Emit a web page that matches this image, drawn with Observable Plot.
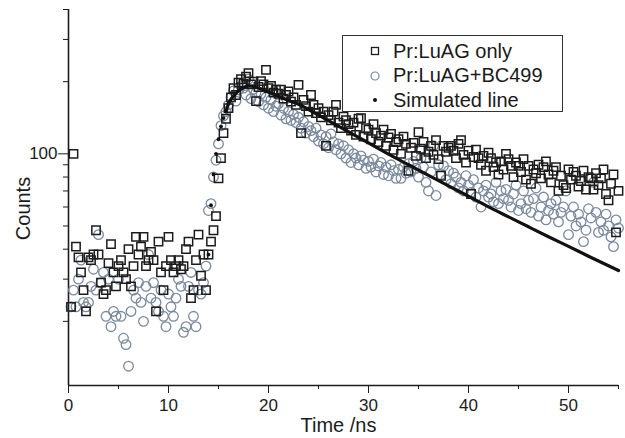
<!DOCTYPE html>
<html>
<head>
<meta charset="utf-8">
<script src="https://cdn.jsdelivr.net/npm/d3@7"></script>
<script src="https://cdn.jsdelivr.net/npm/@observablehq/plot@0.6"></script>
<style>
  html, body { margin: 0; padding: 0; background: #fff; }
  #wrap { position: relative; width: 625px; height: 438px; font-family: "Liberation Sans", Arial, sans-serif; }
  #legend { position: absolute; left: 342px; top: 35px; width: 219px; height: 75px; border: 1px solid #333; background: #fff; }
  .row { position: absolute; left: 0; height: 24px; display: flex; align-items: center; font-size: 20px; color: #1a1a1a; }
  .row svg { margin-left: 27px; margin-right: 13px; }
</style>
</head>
<body>
<div id="wrap"></div>
<script>
// ---- data (time grid in ns, 0.25 ns channels) ----
const tStep = 0.25;

// Pr:LuAG only (squares), counts, from t = 0.25 ns
const luagOnly = [
  23, 100, 41, 37,   32, 27, 22, 37,   36, 38, 48, 38,   29, 26, 27, 35,
  42, 32, 28, 34,    36, 32, 30, 40,   28, 34, 45, 38,   41, 45, 34, 36,
  39, 36, 22, 43,    32, 27, 34, 45,   36, 32, 34, 36,   33, 34, 40, 43,
  25, 27, 36, 46,    31, 38, 27, 38,   43, 48, 55, 79,   96, 122, 140, 155,
  172, 188, 176, 198, 205, 196, 210, 217, 195, 200, 166, 190, 201, 195, 224, 188,
  192, 180, 185, 178, 185, 170, 176, 182, 165, 172, 160, 194, 122, 168, 158, 150,
  176, 160, 148, 155, 142, 150, 108, 145, 138, 150, 160, 135, 128, 143, 138, 133,
  125, 135, 120, 140, 141, 118, 128, 126, 115, 133, 122, 112, 119, 126, 108, 117,
  121, 104, 112, 115, 100, 118, 110, 85,  106, 111, 98, 123,  105, 112, 96, 102,
  108, 99, 114, 95,  81, 108, 102, 106,  108, 103, 96, 110,  114, 99, 92, 103,
  68, 97, 104, 96,   90, 98, 85, 101,   96, 88, 92, 82,     93, 86, 100, 95,
  89, 80, 92, 89,    84, 95, 78, 89,   75, 86, 83, 90,     79, 88, 93, 82,
  76, 85, 88, 70,    81, 74, 72, 86,   78, 84, 81, 73,     77, 85, 71, 80,
  79, 71, 83, 74,    79, 86, 68, 64,   75, 82, 47, 70
];

// Pr:LuAG+BC499 (circles), counts, from t = 0.25 ns
const luagBC = [
  23, 27, 23, 30,    36, 24, 23, 24,   28, 33, 27, 46,   29, 32, 21, 30,
  19, 22, 21, 30,    21, 17, 16, 13,   22, 27, 25, 29,   24, 20, 28, 38,
  25, 29, 24, 22,    27, 21, 19, 26,   23, 21, 25, 30,   28, 18, 19, 28,
  32, 21, 19, 27,    26, 29, 34, 58,   62, 80, 94, 110,  131, 144, 150, 160,
  172, 183, 166, 185, 192, 188, 176, 205, 170, 186, 180, 165, 178, 160, 172, 155,
  168, 150, 158, 162, 145, 155, 140, 150, 138, 146, 135, 142, 128, 136, 122, 130,
  125, 118, 128, 113, 120, 110, 118, 106, 121, 112, 104, 110, 100, 108, 96, 104,
  92, 100, 96, 90,   98, 94, 87, 93,   88, 95, 84, 89,   92, 82, 88, 81,
  90, 85, 79, 86,    79, 88, 83, 91,   84, 93, 87, 80,   96, 88, 76, 70,
  84, 108, 67, 90,   82, 89, 78, 85,   75, 83, 80, 72,   76, 70, 81, 74,
  69, 78, 66, 72,    60, 70, 74, 66,   68, 63, 76, 62,   70, 65, 71, 64,
  60, 68, 74, 58,    62, 70, 59, 64,   57, 65, 72, 55,   60, 66, 53, 58,
  62, 56, 64, 52,    57, 60, 70, 46,   55, 60, 50, 56,   52, 43, 48, 59,
  54, 76, 57, 47,    52, 48, 56, 50,   45, 41, 53, 49
];

// Simulated line
const simTime   = [14.0, 14.25, 14.5, 14.75, 15.0, 15.25, 15.5, 15.75, 16.0, 16.5, 17.0, 17.5, 18.0, 18.5, 19, 20, 21, 22, 23, 24, 25, 26, 27, 28, 29, 30, 32, 34, 36, 38, 40, 42, 44, 46, 48, 50, 52, 54, 55];
const simCounts = [38, 61, 82, 100, 115, 130, 141, 150, 162, 174, 183, 189, 192, 191, 188, 181, 174, 167, 161, 153, 145, 137.6, 130.4, 123.6, 117.2, 111, 99.7, 90, 81.3, 73.5, 66.5, 60.1, 54.6, 49.6, 45.1, 41.1, 37.4, 34.1, 32.6];

// axes
const xDomain = [0, 55];
const yDomain = [10.8, 400];
const xMajor = [0, 10, 20, 30, 40, 50];
const xMinor = [5, 15, 25, 35, 45, 55];
const yMajor = [100];
const yMinor = [20, 30, 40, 50, 60, 70, 80, 90, 200, 300, 400];

const seriesNames = ["Pr:LuAG only", "Pr:LuAG+BC499", "Simulated line"];

// ---- build tables ----
const squares = luagOnly.map((v, i) => ({t: (i + 1) * tStep, v}));
const circles = luagBC.map((v, i) => ({t: (i + 1) * tStep, v}));
const sim = simTime.map((t, i) => ({t, v: simCounts[i]}));
const simRise = sim.filter(d => d.t <= 16);
const simCurve = sim.filter(d => d.t >= 15.75);

const ink = "#1c1c1c";
const circleColor = "#7b8a9e";

const chart = Plot.plot({
  width: 625,
  height: 438,
  marginLeft: 68,
  marginRight: 7,
  marginTop: 9,
  marginBottom: 53,
  style: {fontFamily: "'Liberation Sans', Arial, sans-serif", color: ink, background: "white", overflow: "visible"},
  x: {domain: xDomain, label: null},
  y: {type: "log", domain: yDomain, label: null},
  marks: [
    Plot.axisX({ticks: xMajor, tickSize: 8, tickPadding: 5, fontSize: 17, tickFormat: d => String(d), label: null}),
    Plot.axisX({ticks: xMinor, tickSize: 4, tickFormat: () => "", label: null}),
    Plot.axisY({ticks: yMajor, tickSize: 10, tickPadding: 1, fontSize: 17, tickFormat: d => String(d), label: null}),
    Plot.axisY({ticks: yMinor, tickSize: 5, tickFormat: () => "", label: null}),
    Plot.ruleX([xDomain[0]], {stroke: ink, strokeWidth: 1.6}),
    Plot.ruleY([yDomain[0]], {stroke: ink, strokeWidth: 1.6}),
    Plot.dot(circles, {x: "t", y: "v", r: 4.8, stroke: circleColor, strokeWidth: 1.3, fill: "none"}),
    Plot.dot(squares, {x: "t", y: "v", symbol: "square", r: 4.7, stroke: ink, strokeWidth: 1.5, fill: "none"}),
    Plot.line(simCurve, {x: "t", y: "v", stroke: "#111", strokeWidth: 3.2, curve: "monotone-x"}),
    Plot.dot(simRise, {x: "t", y: "v", r: 1.9, fill: "#111"}),
    Plot.text(["Time /ns"], {frameAnchor: "bottom", lineAnchor: "middle", textAnchor: "middle", dy: 40, dx: -5, fontSize: 20, fill: ink}),
    Plot.text(["Counts"], {frameAnchor: "left", lineAnchor: "middle", textAnchor: "middle", rotate: -90, dx: -45, dy: 11, fontSize: 20, fill: ink})
  ]
});

const wrap = document.getElementById("wrap");
wrap.appendChild(chart);

// legend overlay (inside the plot area, top right)
const legend = document.createElement("div");
legend.id = "legend";
const symbols = [
  `<svg width="10" height="10"><rect x="1.5" y="1.5" width="7" height="7" fill="none" stroke="${ink}" stroke-width="1.3"/></svg>`,
  `<svg width="10" height="10"><circle cx="5" cy="5" r="4" fill="none" stroke="${circleColor}" stroke-width="1.2"/></svg>`,
  `<svg width="10" height="10"><circle cx="5" cy="5" r="2" fill="#111"/></svg>`
];
seriesNames.forEach((name, i) => {
  const row = document.createElement("div");
  row.className = "row";
  row.style.top = (3 + i * 24.5) + "px";
  row.innerHTML = symbols[i] + `<span>${name}</span>`;
  legend.appendChild(row);
});
wrap.appendChild(legend);
</script>
</body>
</html>
